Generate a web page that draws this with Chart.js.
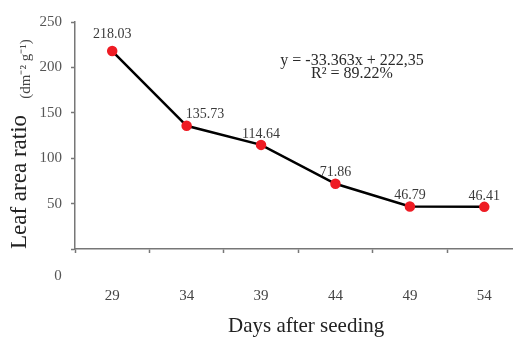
<!DOCTYPE html>
<html>
<head>
<meta charset="utf-8">
<script src="https://cdn.jsdelivr.net/npm/chart.js@4/dist/chart.umd.min.js"></script>
<style>
html,body{margin:0;padding:0;background:#fff;overflow:hidden;width:513px;height:340px;}
#wrap{width:528px;height:340px;position:absolute;left:0;top:0;}
canvas{display:block;width:528px;height:340px;}
</style>
</head>
<body>
<div id="wrap"><canvas id="c" width="528" height="340"></canvas></div>
<script>
const categories = ['29', '34', '39', '44', '49', '54'];
const leafAreaRatio = [218.03, 135.73, 114.64, 71.86, 46.79, 46.41];
const yTicks = [0, 50, 100, 150, 200, 250];
const equationLines = ['y = -33.363x + 222,35', 'R² = 89.22%'];
const xTitle = 'Days after seeding';
const yTitle = 'Leaf area ratio';
const yUnits = '(dm⁻² g⁻¹)';

const SERIF = '"Liberation Serif", "Times New Roman", serif';

const extras = {
  id: 'extras',
  afterDatasetsDraw(chart) {
    const ctx = chart.ctx;
    const ca = chart.chartArea;
    const meta = chart.getDatasetMeta(0);
    ctx.save();
    // value labels
    ctx.font = '14px ' + SERIF;
    ctx.fillStyle = '#3a3a3a';
    ctx.textBaseline = 'middle';
    meta.data.forEach((pt, i) => {
      const v = chart.data.datasets[0].data[i];
      let align = 'center', dx = 0, dy = -11;
      if (i === 0) dy = -17;
      if (i === 1) { align = 'left'; dx = -1; }
      ctx.textAlign = align;
      ctx.fillText(v.toFixed(2), pt.x + dx, pt.y + dy);
    });
    // equation
    ctx.textAlign = 'center';
    ctx.fillStyle = '#2a2a2a';
    ctx.font = '16px ' + SERIF;
    ctx.fillText(equationLines[0], 352, 61);
    ctx.fillText(equationLines[1], 352, 74);
    // displaced zero label
    const ys = chart.scales.y;
    ctx.font = '15px ' + SERIF;
    ctx.fillStyle = '#555';
    ctx.fillText(String(yTicks[0]), ca.left - 17, ys.getPixelForValue(0) + 27);
    // y title with units
    ctx.translate(20, 182);
    ctx.rotate(-Math.PI / 2);
    ctx.font = '23px ' + SERIF;
    ctx.fillStyle = '#222';
    ctx.fillText(yTitle, 0, 0);
    ctx.font = '15px ' + SERIF;
    ctx.fillStyle = '#444';
    ctx.fillText(yUnits, 113, 6);
    ctx.restore();
  }
};

new Chart(document.getElementById('c'), {
  type: 'line',
  data: {
    labels: categories,
    datasets: [{
      data: leafAreaRatio,
      borderColor: '#000',
      borderWidth: 2.5,
      pointBackgroundColor: '#ee1c24',
      pointBorderColor: '#ee1c24',
      pointRadius: 4,
      tension: 0
    }]
  },
  options: {
    responsive: false,
    animation: false,
    devicePixelRatio: 1,
    layout: { padding: { top: 22, right: 2, left: 0, bottom: 0 } },
    plugins: { legend: { display: false }, tooltip: { enabled: false } },
    scales: {
      x: {
        offset: true,
        grid: { offset: true, drawOnChartArea: false, tickLength: 4, color: '#777', tickWidth: 1.5 },
        border: { color: '#777', width: 1.5 },
        ticks: { padding: 34, color: '#444', font: { family: SERIF, size: 15 } },
        title: { display: true, text: '   ' + xTitle, color: '#222', font: { family: SERIF, size: 21 }, padding: { top: 0, bottom: 1 } },
        afterFit(s) { s.height = 91; }
      },
      y: {
        min: 0, max: 250,
        afterBuildTicks(s) { s.ticks = yTicks.map(v => ({ value: v })); },
        grid: { drawOnChartArea: false, tickLength: 4, color: '#777', tickWidth: 1.5 },
        border: { color: '#777', width: 1.5 },
        ticks: { padding: 9, color: '#555', font: { family: SERIF, size: 15 }, callback: v => v === 0 ? '' : String(v) },
        afterFit(s) { s.width = 75; }
      }
    }
  },
  plugins: [extras]
});
</script>
</body>
</html>
